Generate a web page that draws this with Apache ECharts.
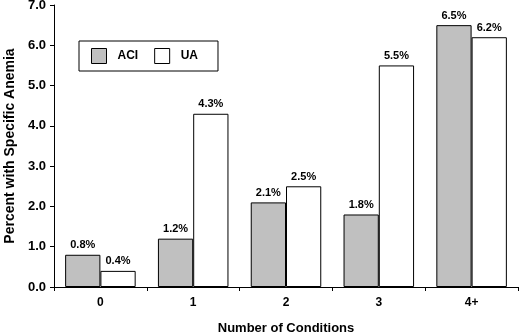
<!DOCTYPE html>
<html><head><meta charset="utf-8">
<script src="https://cdn.jsdelivr.net/npm/echarts@6/dist/echarts.min.js"></script>
<style>html,body{margin:0;padding:0;background:#fff}#c{width:520px;height:334px}</style>
</head><body><div id="c"></div>
<script>
const categories = ['0', '1', '2', '3', '4+'];
const aciValues = [0.8, 1.2, 2.1, 1.8, 6.5];
const uaValues = [0.4, 4.3, 2.5, 5.5, 6.2];
const seriesNames = ['ACI', 'UA'];
const yTicks = [0, 1, 2, 3, 4, 5, 6, 7];

const font = 'Liberation Sans, Arial, sans-serif';
const chart = echarts.init(document.getElementById('c'));
const lbl = {show: true, position: 'top', distance: 4, fontFamily: font, fontWeight: 'bold', fontSize: 11, color: '#000', formatter: p => p.value.toFixed(1) + '%'};
chart.setOption({
  animation: false,
  backgroundColor: '#fff',
  grid: {left: 54, right: 2, top: 5, bottom: 47, outerBoundsMode: 'none', containLabel: false},
  legend: {
    left: 79, top: 41,
    orient: 'horizontal',
    borderColor: '#000', borderWidth: 1,
    padding: [7, 20, 7, 12],
    itemWidth: 15, itemHeight: 15, itemGap: 16,
    textStyle: {fontFamily: font, fontWeight: 'bold', fontSize: 12, color: '#000', padding: [0, 0, 0, 6]},
    data: [
      {name: seriesNames[0], icon: 'rect', itemStyle: {color: '#c0c0c0', borderColor: '#000', borderWidth: 1}},
      {name: seriesNames[1], icon: 'rect', itemStyle: {color: '#fff', borderColor: '#000', borderWidth: 1}}
    ]
  },
  xAxis: {
    type: 'category', data: categories,
    name: 'Number of Conditions', nameLocation: 'middle', nameGap: 35,
    nameTextStyle: {fontFamily: font, fontWeight: 'bold', fontSize: 13, color: '#000'},
    axisLine: {lineStyle: {color: '#000', width: 1}},
    axisTick: {show: true, alignWithLabel: false, length: 4, lineStyle: {color: '#000'}},
    axisLabel: {fontFamily: font, fontWeight: 'bold', fontSize: 12, color: '#000', margin: 10}
  },
  yAxis: {
    type: 'value', min: yTicks[0], max: yTicks[yTicks.length - 1], interval: 1,
    name: 'Percent with Specific Anemia', nameLocation: 'middle', nameGap: 37, nameRotate: 90,
    nameTextStyle: {fontFamily: font, fontWeight: 'bold', fontSize: 14, color: '#000'},
    axisLine: {show: true, lineStyle: {color: '#000', width: 1}},
    axisTick: {show: true, length: 4, lineStyle: {color: '#000'}},
    splitLine: {show: false},
    axisLabel: {fontFamily: font, fontWeight: 'bold', fontSize: 13, color: '#000', margin: 8, formatter: v => v.toFixed(1)}
  },
  series: [
    {name: seriesNames[0], type: 'bar', data: aciValues, barGap: '0%', barCategoryGap: '24%',
     itemStyle: {color: '#c0c0c0', borderColor: '#000', borderWidth: 1}, label: lbl},
    {name: seriesNames[1], type: 'bar', data: uaValues, barGap: '0%', barCategoryGap: '24%',
     itemStyle: {color: '#fff', borderColor: '#000', borderWidth: 1}, label: lbl}
  ]
});
</script></body></html>
